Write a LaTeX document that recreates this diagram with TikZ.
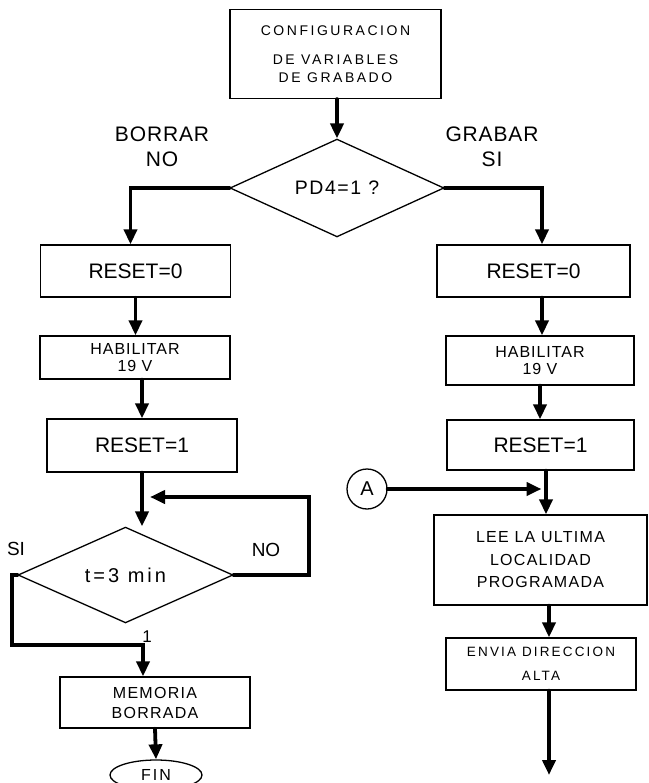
\documentclass[tikz,border=0pt]{standalone}
\usepackage{fontspec}
\setmainfont{Liberation Sans}
\usetikzlibrary{shapes.geometric,arrows.meta}

\newcommand{\ls}[1]{\addfontfeature{LetterSpace=#1}}

\begin{document}
\begin{tikzpicture}[x=1pt,y=1pt,line cap=round,
  box/.style={draw,line width=1.3pt,inner sep=0pt,align=center,minimum width=190pt,minimum height=52pt},
  cond/.style={draw,diamond,line width=1.3pt,inner sep=0pt},
  flow/.style={line width=3.8pt,-{Triangle[length=15pt,width=13pt]}},
  tag/.style={align=center,font=\fontsize{21}{25.5}\selectfont\ls{4}}]
	\useasboundingbox (0,0) rectangle (648,-783);
	% inicio
	\node[box,minimum width=211pt,minimum height=89pt,font=\fontsize{14}{18}\selectfont\ls{18}]
	(cfg) at (335.5,-54) {CONFIGURACION\\[11pt] DE VARIABLES\\ DE GRABADO};
	\node[cond,minimum width=214pt,minimum height=90pt,font=\fontsize{19.5}{22}\selectfont\ls{8}]
	(pd) at (337,-188) {PD4=1 ?};
	\node[tag] (borrar) at (162,-147) {BORRAR\\NO};
	\node[tag] (grabar) at (492,-147) {GRABAR\\SI};
	% rama de borrado
	\node[box,font=\fontsize{21}{24}\selectfont] (r0L) at (135.5,-271) {RESET=0};
	\node[box,minimum height=43pt,font=\fontsize{16}{16.5}\selectfont\ls{6}] (habL) at (135,-357.5) {HABILITAR\\19 V};
	\node[box,minimum height=53pt,font=\fontsize{21}{24}\selectfont] (r1L) at (142,-445.5) {RESET=1};
	\node[cond,minimum width=215pt,minimum height=92pt,font=\fontsize{20}{22}\selectfont\ls{15}]
	(tdec) at (125.5,-575) {t=3 min};
	\coordinate (loopin) at (150,-497);
	\node[font=\fontsize{19}{22}\selectfont] (si) at (16,-549) {SI};
	\node[font=\fontsize{19}{22}\selectfont] (no) at (266,-550) {NO};
	\node[box,minimum height=51pt,font=\fontsize{16}{20}\selectfont\ls{8}]
	(mem) at (155,-702.5) {MEMORIA\\BORRADA};
	\node[draw,ellipse,line width=1.3pt,minimum width=92pt,minimum height=30pt,inner sep=0pt,
	font=\fontsize{16}{18}\selectfont\ls{12}] (fin) at (156,-775) {FIN};
	\node[font=\fontsize{17}{19}\selectfont] (uno) at (147,-637) {1};
	% rama de grabado
	\node[box,minimum width=193pt,font=\fontsize{21}{24}\selectfont] (r0R) at (533.5,-271) {RESET=0};
	\node[box,minimum width=188pt,minimum height=49pt,font=\fontsize{16}{16.5}\selectfont\ls{6}] (habR) at (540,-360.5) {HABILITAR\\19 V};
	\node[box,minimum width=187pt,minimum height=50pt,font=\fontsize{21}{24}\selectfont] (r1R) at (540.5,-445) {RESET=1};
	\node[draw,circle,line width=1.3pt,minimum size=40pt,inner sep=0pt,font=\fontsize{20}{22}\selectfont]
	(A) at (367,-489) {A};
	\node[box,minimum width=213pt,minimum height=90pt,font=\fontsize{16}{22.5}\selectfont\ls{8}]
	(lee) at (540.5,-560) {LEE LA ULTIMA\\LOCALIDAD\\PROGRAMADA};
	\node[box,minimum height=52pt,font=\fontsize{13.5}{24}\selectfont\ls{16}]
	(env) at (541,-664) {ENVIA DIRECCION\\ALTA};
	\coordinate (sigue) at (549,-775);
	% conectores
	\draw[flow] (cfg.south -| pd.north) -- (pd.north);
	\draw[flow] (pd.west) -| ([xshift=-5pt]r0L.north);
	\draw[flow] (pd.east) -| ([xshift=8.5pt]r0R.north);
	\draw[flow] (r0L.south) -- (r0L.south |- habL.north);
	\draw[flow] ([xshift=7pt]habL.south) -- ([xshift=7pt]habL.south |- r1L.north);
	\draw[flow] (r1L.south) -- (r1L.south |- tdec.north);
	\draw[flow] (tdec.east) -- ++(75,0) |- (loopin);
	\draw[flow] (tdec.west) -- ++(-5,0) -- ++(0,-70) -| ([xshift=-12pt]mem.north);
	\draw[flow] (mem.south) -- (fin.north);
	\draw[flow] ([xshift=8.5pt]r0R.south) -- ([xshift=8.5pt]r0R.south |- habR.north);
	\draw[flow] (habR.south) -- (habR.south |- r1R.north);
	\draw[flow] ([xshift=5.5pt]r1R.south) -- ([xshift=5.5pt]r1R.south |- lee.north);
	\draw[flow] (A.east) -- ([xshift=1pt]r1R.south |- A.east);
	\draw[flow] ([xshift=8.5pt]lee.south) -- ([xshift=8.5pt]lee.south |- env.north);
	\draw[flow] ([xshift=8pt]env.south) -- (sigue);
\end{tikzpicture}
\end{document}
